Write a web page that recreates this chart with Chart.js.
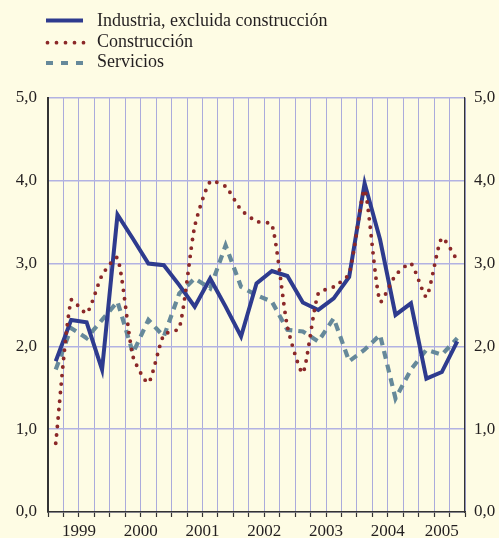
<!DOCTYPE html>
<html>
<head>
<meta charset="utf-8">
<script src="https://cdn.jsdelivr.net/npm/chart.js@4.4.0/dist/chart.umd.min.js"></script>
<style>
html,body{margin:0;padding:0;background:#fefce4;}
#wrap{position:relative;width:499px;height:538px;overflow:hidden;}
#chart{position:absolute;left:0;top:0;}
#legend{position:absolute;left:0;top:0;}
</style>
</head>
<body>
<div id="wrap">
<canvas id="chart" width="499" height="538"></canvas>
<svg id="legend" width="499" height="80" xmlns="http://www.w3.org/2000/svg">
  <line x1="46" y1="20.5" x2="83" y2="20.5" stroke="#2e3b8e" stroke-width="4"/>
  <line x1="47.5" y1="42.7" x2="84" y2="42.7" stroke="#8b2828" stroke-width="3.8" stroke-dasharray="0 9" stroke-linecap="round"/>
  <line x1="46" y1="63" x2="84" y2="63" stroke="#66899a" stroke-width="4" stroke-dasharray="7 8"/>
  <text x="97" y="26" font-family="Liberation Serif, Times New Roman, serif" font-size="18" fill="#231f20">Industria, excluida construcción</text>
  <text x="97" y="46.5" font-family="Liberation Serif, Times New Roman, serif" font-size="18" fill="#231f20">Construcción</text>
  <text x="97" y="66.7" font-family="Liberation Serif, Times New Roman, serif" font-size="18" fill="#231f20">Servicios</text>
</svg>
</div>
<script>
const quarters = [
  '1999-I','1999-II','1999-III','1999-IV',
  '2000-I','2000-II','2000-III','2000-IV',
  '2001-I','2001-II','2001-III','2001-IV',
  '2002-I','2002-II','2002-III','2002-IV',
  '2003-I','2003-II','2003-III','2003-IV',
  '2004-I','2004-II','2004-III','2004-IV',
  '2005-I','2005-II','2005-III'
];
const industria = [1.82,2.32,2.29,1.72,3.59,3.30,3.00,2.98,2.74,2.48,2.82,2.48,2.12,2.76,2.91,2.85,2.53,2.44,2.58,2.84,3.97,3.29,2.38,2.52,1.61,1.69,2.06];
const construccion = [0.83,2.56,2.40,2.86,3.07,1.88,1.56,2.14,2.22,3.45,3.99,3.93,3.65,3.51,3.47,2.24,1.68,2.64,2.72,2.88,3.89,2.54,2.86,3.00,2.60,3.31,3.04];
const servicios = [1.72,2.22,2.10,2.32,2.54,1.92,2.32,2.12,2.64,2.82,2.70,3.22,2.72,2.62,2.54,2.20,2.18,2.06,2.34,1.82,1.96,2.14,1.37,1.72,1.96,1.90,2.10];
const years = ['1999','2000','2001','2002','2003','2004','2005'];
const yTicks = [0,1,2,3,4,5];

// centre of each year's group of quarters (derived from the categories)
const yearCenters = years.map(y => {
  const idx = quarters.map((q,i)=>q.startsWith(y)?i:-1).filter(i=>i>=0);
  return idx.reduce((a,b)=>a+b,0)/idx.length;
});

const fmt = v => Number(v).toFixed(1).replace('.', ',');
const tickFont = {family:'Liberation Serif, Times New Roman, serif', size:17};

new Chart(document.getElementById('chart'), {
  type:'line',
  data:{
    labels: quarters,
    datasets:[
      {label:'Industria, excluida construcción', data:industria, borderColor:'#2e3b8e', borderWidth:4,
       pointRadius:0, tension:0, borderJoinStyle:'miter', order:1, fill:false},
      {label:'Construcción', data:construccion, borderColor:'#8b2828', borderWidth:3.9,
       borderDash:[0,8.5], borderCapStyle:'round', pointRadius:0, tension:0.2, order:0, fill:false},
      {label:'Servicios', data:servicios, borderColor:'#66899a', borderWidth:4.2,
       borderDash:[8,6], borderCapStyle:'butt', pointRadius:0, tension:0, order:2, fill:false}
    ]
  },
  options:{
    responsive:false,
    devicePixelRatio:1,
    animation:false,
    layout:{padding:{top:98,left:0,right:0,bottom:0}},
    plugins:{legend:{display:false}, tooltip:{enabled:false}},
    scales:{
      x:{
        type:'category', position:'bottom', offset:true, weight:0,
        grid:{offset:true, color:'#ababdc', lineWidth:1, drawTicks:true, tickLength:5, tickColor:'#333333', tickWidth:1.2},
        border:{display:true, color:'#333333', width:1.5},
        ticks:{display:false},
        afterFit: s => { s.height = 5; }
      },
      xYears:{
        type:'linear', position:'bottom', weight:1,
        min:-0.5, max:quarters.length-0.5,
        grid:{display:false}, border:{display:false},
        afterBuildTicks: s => { s.ticks = yearCenters.map(v=>({value:v})); },
        ticks:{autoSkip:false, maxRotation:0, padding:-4, color:'#231f20', font:tickFont,
          callback:(v)=>{ const k = yearCenters.findIndex(c=>Math.abs(c-v)<1e-6); return k>=0?years[k]:''; }},
        afterFit: s => { s.height = 21; }
      },
      y:{
        position:'left', min:0, max:5,
        afterBuildTicks: s => { s.ticks = yTicks.map(v=>({value:v})); },
        grid:{color:'#b2b2e2', lineWidth:1.5, drawTicks:false},
        border:{display:true, color:'#333333', width:2},
        ticks:{padding:11, color:'#231f20', font:tickFont, callback:fmt},
        afterFit: s => { s.width = 48; }
      },
      y2:{
        position:'right', min:0, max:5,
        afterBuildTicks: s => { s.ticks = yTicks.map(v=>({value:v})); },
        grid:{display:false, drawTicks:false},
        border:{display:true, color:'#333333', width:1.2},
        ticks:{padding:9, color:'#231f20', font:tickFont, callback:fmt},
        afterFit: s => { s.width = 34; }
      }
    }
  }
});
</script>
</body>
</html>
